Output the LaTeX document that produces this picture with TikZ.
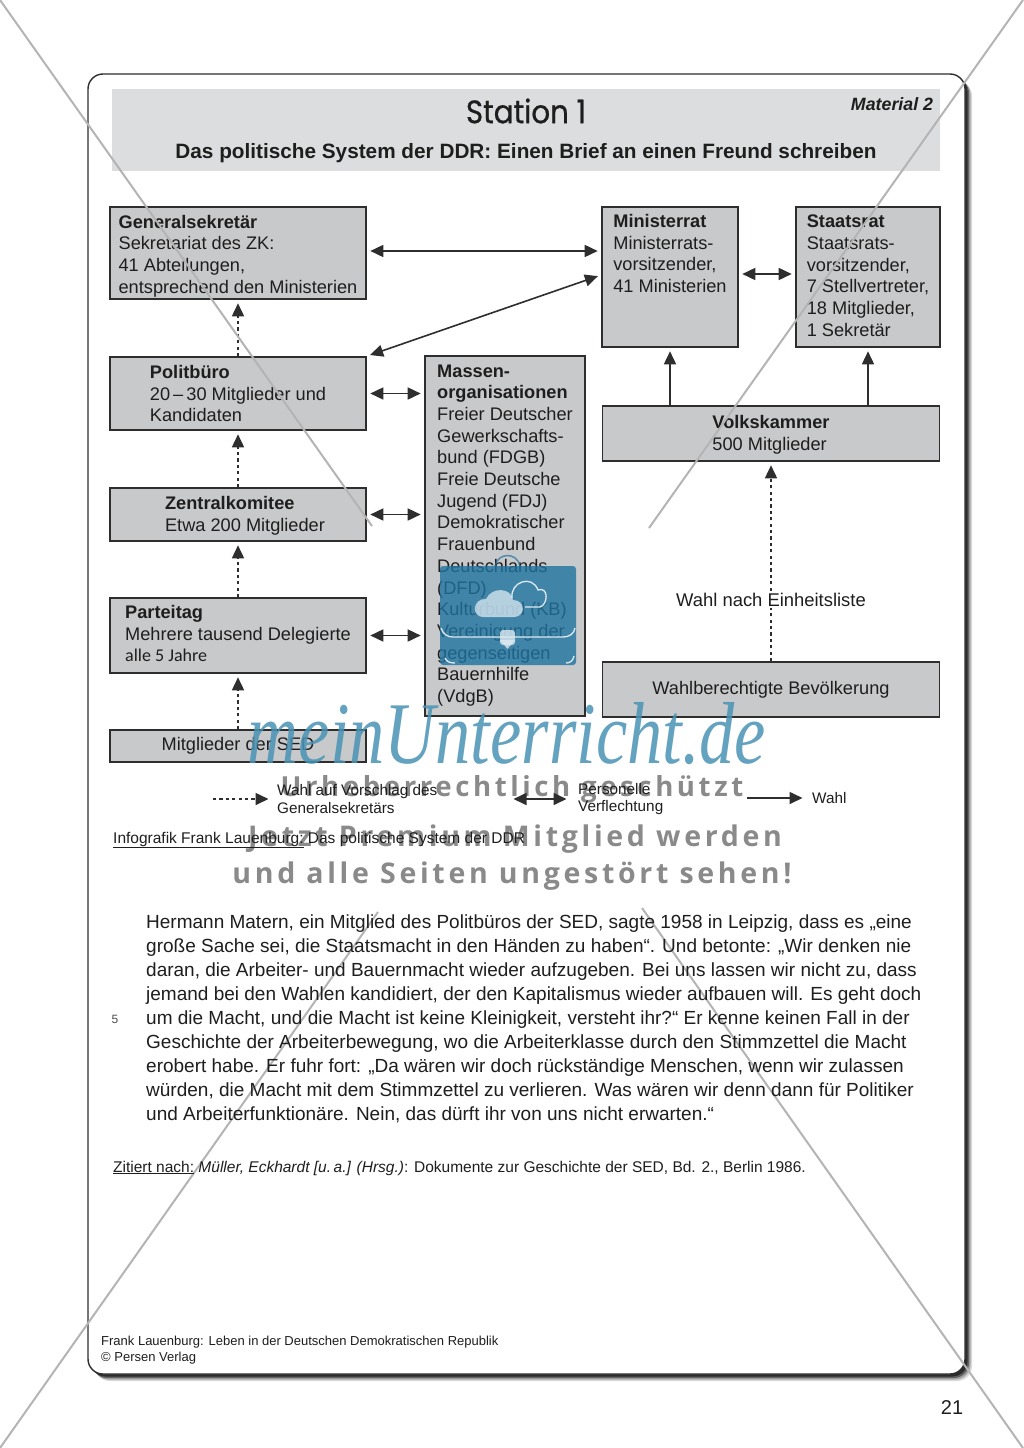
\documentclass[tikz,border=0pt]{standalone}
\usepackage{fontspec}
\setmainfont{Liberation Sans}
\newfontfamily\titlefont[FakeStretch=0.9,FakeBold=0.7]{Poppins}
\newfontfamily\logofont[FakeStretch=0.8]{Liberation Serif}
\newfontfamily\stampfont[LetterSpace=13]{Open Sans}
\newfontfamily\minifont{Carlito}
\usetikzlibrary{arrows.meta}
\definecolor{kastengrau}{HTML}{C8C9CB}
\definecolor{kopfgrau}{HTML}{DCDDDE}
\definecolor{liniedunkel}{HTML}{2E2E2E}
\definecolor{schrift}{HTML}{1E1E1E}
\definecolor{logoblau}{HTML}{4A93B5}
\definecolor{koffer}{HTML}{1F73A0}
\definecolor{stempel}{HTML}{8A8A8A}
\definecolor{kreuz}{HTML}{B4B4B4}
\tikzset{
  box/.style={draw=liniedunkel, line width=1.6pt, fill=kastengrau, text=schrift, align=left, inner sep=0pt,
    font=\fontsize{18.2}{21.7}\selectfont},
  verflechtung/.style={{Triangle[length=13pt,width=12pt]}-{Triangle[length=13pt,width=12pt]}, line width=1.6pt, liniedunkel, shorten <=3.5pt, shorten >=3.5pt},
  wahlpfeil/.style={-{Triangle[length=13pt,width=12pt]}, line width=1.6pt, liniedunkel, shorten >=3.5pt},
  vorschlag/.style={wahlpfeil, dash pattern=on 3.2pt off 3.2pt},
  legende/.style={anchor=west, align=left, inner sep=0pt, text=schrift, font=\fontsize{15.3}{17.8}\selectfont},
  stamp/.style={text=stempel, font=\stampfont\bfseries\fontsize{28.5}{34}\selectfont},
  kreuzlinie/.style={line width=2pt, kreuz}
}
\begin{document}
\begin{tikzpicture}[x=1pt,y=-1pt]
\useasboundingbox (0,0) rectangle (1023,1448);

% frame and header
\foreach \off/\op in {7/.15,5.5/.25,4/.4,2.5/.55}
  \fill[black, opacity=\op, rounded corners=15pt] (88+\off,74+\off) rectangle (965+\off,1374+\off);
\draw[liniedunkel, line width=1.4pt, fill=white, rounded corners=15pt] (88,74) rectangle (965,1374);
\fill[kopfgrau] (112,89) rectangle (940,171);

% boxes
\node[box, minimum width=256pt, minimum height=92pt] (gensek) at (238,253) {\rule{0pt}{19pt}\textbf{Generalsekretär}\\Sekretariat des ZK:\\41 Abteilungen,\\entsprechend den Ministerien};
\node[box, minimum width=256pt, minimum height=73pt] (politbuero) at (238,393.5) {\textbf{Politbüro}\\20\,--\,30 Mitglieder und\\Kandidaten};
\node[box, minimum width=256pt, minimum height=53pt] (zk) at (238,514.5) {\rule{0pt}{16pt}\hspace*{14pt}\textbf{Zentralkomitee}\\\hspace*{14pt}Etwa 200 Mitglieder};
\node[box, minimum width=256pt, minimum height=75pt] (parteitag) at (238,635.5) {\textbf{Parteitag}\\Mehrere tausend Delegierte\\{\minifont\fontsize{18}{21.7}\selectfont alle 5 Jahre}\rule[-4pt]{0pt}{4pt}};
\node[box, minimum width=256pt, minimum height=32pt] (mitglieder) at (238,746) {Mitglieder der SED};
\node[box, minimum width=160pt, minimum height=360pt] (massen) at (505,536) {\textbf{Massen-}\\\textbf{organisationen}\\Freier Deutscher\\Gewerkschafts-\\bund (FDGB)\\Freie Deutsche\\Jugend (FDJ)\\Demokratischer\\Frauenbund\\Deutschlands\\(DFD)\\Kulturbund (KB)\\Vereinigung der\\gegenseitigen\\Bauernhilfe\\(VdgB)\rule[-5pt]{0pt}{5pt}};
\node[box, minimum width=136pt, minimum height=140pt] (ministerrat) at (670,277) {\textbf{Ministerrat}\\Ministerrats-\\vorsitzender,\\41 Ministerien\\\mbox{}\\[4pt]\mbox{}};
\node[box, minimum width=144pt, minimum height=140pt] (staatsrat) at (868,277) {\textbf{Staatsrat}\\Staatsrats-\\vorsitzender,\\7 Stellvertreter,\\18 Mitglieder,\\1 Sekretär\rule[-3pt]{0pt}{3pt}};
\node[box, minimum width=337pt, minimum height=55pt] (volkskammer) at (771,433.5) {\rule{0pt}{16pt}\textbf{Volkskammer}\\500 Mitglieder};
\node[box, minimum width=337pt, minimum height=55pt] (bevoelkerung) at (771,689.5) {Wahlberechtigte Bevölkerung};

% connectors
\draw[verflechtung] ([yshift=2pt]gensek.east) -- ([yshift=2pt]gensek.east -| ministerrat.west);
\draw[verflechtung] (politbuero.north east) -- ([yshift=2pt]ministerrat.west);
\draw[verflechtung] (politbuero.east) -- (politbuero.east -| massen.west);
\draw[verflechtung] (zk.east) -- (zk.east -| massen.west);
\draw[verflechtung] (parteitag.east) -- (parteitag.east -| massen.west);
\draw[verflechtung] ([yshift=3pt]ministerrat.east) -- ([yshift=3pt]ministerrat.east -| staatsrat.west);
\draw[wahlpfeil] (volkskammer.north -| ministerrat.south) -- (ministerrat.south);
\draw[wahlpfeil] (volkskammer.north -| staatsrat.south) -- (staatsrat.south);
\draw[vorschlag] (politbuero.north) -- (gensek.south);
\draw[vorschlag] (zk.north) -- (politbuero.south);
\draw[vorschlag] (parteitag.north) -- (zk.south);
\draw[vorschlag] (mitglieder.north) -- (parteitag.south);
\draw[vorschlag] (bevoelkerung.north) -- (volkskammer.south);
\node[fill=white, inner sep=1pt, text=schrift, font=\fontsize{18.4}{21}\selectfont] (einheit) at (771,600) {Wahl nach Einheitsliste};

% grey cross over the page
\draw[kreuzlinie] (0,0) -- (372,526);
\draw[kreuzlinie] (1023,0) -- (649,528);
\draw[kreuzlinie] (642,908) -- (1023,1448);
\draw[kreuzlinie] (378,912) -- (0,1448);

% stamp lines
\node[stamp, font=\stampfont\bfseries\fontsize{27.6}{34}\selectfont] (stamp1) at (512,789) {Urheberrechtlich geschützt};
\node[stamp] (stamp2) at (515,839) {Jetzt Premium Mitglied werden};
\node[stamp] (stamp3) at (512,876) {und alle Seiten ungestört sehen!};

% titles
\node[text=schrift, font=\titlefont\fontsize{32.5}{36}\selectfont] (station) at (526,111) {Station 1};
\node[text=schrift, font=\bfseries\itshape\fontsize{17.8}{18}\selectfont] (material) at (892,104) {Material 2};
\node[text=schrift, font=\bfseries\fontsize{20.75}{24}\selectfont] (untertitel) at (526,153) {Das politische System der DDR: Einen Brief an einen Freund schreiben};

% legend
\coordinate (leg1a) at (213,799);
\coordinate (leg1b) at (272,799);
\coordinate (leg2a) at (510,799);
\coordinate (leg2b) at (570,799);
\coordinate (leg3a) at (747,798);
\coordinate (leg3b) at (806,798);
\draw[vorschlag] (leg1a) -- (leg1b);
\draw[verflechtung] (leg2a) -- (leg2b);
\draw[wahlpfeil] (leg3a) -- (leg3b);
\node[legende] (leg1) at (277,799) {Wahl auf Vorschlag des\\Generalsekretärs};
\node[legende] (leg2) at (578,799) {Personelle\\Verflechtung};
\node[legende] (leg3) at (812,798) {Wahl};

% caption, text, source
\node[anchor=west, inner sep=0pt, text=schrift, font=\fontsize{15.5}{18}\selectfont] (caption) at (113,840) {\underline{Infografik Frank Lauenburg:} Das politische System der DDR};
\node[anchor=north west, align=left, inner sep=0pt, text=schrift, font=\fontsize{19}{24}\selectfont] (quelltext) at (146,915) {Hermann Matern, ein Mitglied des Politbüros der SED, sagte 1958 in Leipzig, dass es „eine\\große Sache sei, die Staatsmacht in den Händen zu haben“. Und betonte: „Wir denken nie\\daran, die Arbeiter- und Bauernmacht wieder aufzugeben. Bei uns lassen wir nicht zu, dass\\jemand bei den Wahlen kandidiert, der den Kapitalismus wieder aufbauen will. Es geht doch\\um die Macht, und die Macht ist keine Kleinigkeit, versteht ihr?“ Er kenne keinen Fall in der\\Geschichte der Arbeiterbewegung, wo die Arbeiterklasse durch den Stimmzettel die Macht\\erobert habe. Er fuhr fort: „Da wären wir doch rückständige Menschen, wenn wir zulassen\\würden, die Macht mit dem Stimmzettel zu verlieren. Was wären wir denn dann für Politiker\\und Arbeiterfunktionäre. Nein, das dürft ihr von uns nicht erwarten.“};
\node[text=black!70, font=\fontsize{12}{14}\selectfont] (zeile) at (115,1019) {5};
\node[anchor=west, inner sep=0pt, text=schrift, font=\fontsize{15.5}{18}\selectfont] (nachweis) at (113,1168) {\underline{Zitiert nach:} \textit{Müller, Eckhardt [u.\,a.] (Hrsg.)}: Dokumente zur Geschichte der SED, Bd. 2., Berlin 1986.};
\node[anchor=north west, align=left, inner sep=0pt, text=schrift, font=\fontsize{13}{16}\selectfont] (fuss) at (101,1336) {Frank Lauenburg: Leben in der Deutschen Demokratischen Republik\\© Persen Verlag};
\node[text=schrift, font=\fontsize{20}{24}\selectfont] (seite) at (952,1407) {21};

% briefcase mark
\fill[koffer, opacity=.8, rounded corners=3pt] (440,566) rectangle (576,665);
\draw[koffer, line width=1.5pt, opacity=.7] (495,566) .. controls (498,552) and (517,552) .. (520,566);
\draw[white!85!koffer, line width=1.3pt] (441,628) .. controls (443,634) and (447,637) .. (453,637) -- (563,637) .. controls (569,637) and (574,634) .. (575,628);
\draw[white!85!koffer, line width=1.3pt] (445,658) .. controls (447,662) and (450,663) .. (455,663);
\draw[white!85!koffer, line width=1.3pt] (574,656) .. controls (573,661) and (570,663) .. (566,663);
\fill[white!85!koffer, opacity=.8, rounded corners=3pt] (500,630) rectangle (515,645);
\fill[white!85!koffer, opacity=.8] (500,640) -- (515,640) -- (507.5,649) -- cycle;
\draw[white!85!koffer, line width=1.3pt] (512,598) .. controls (510,582) and (532,574) .. (538,590) .. controls (549,586) and (548,605) .. (540,607) -- (525,607);
\fill[white!85!koffer, opacity=.75] (484,617) .. controls (470,617) and (473,598) .. (486,599) .. controls (492,586) and (512,588) .. (513,600) .. controls (526,600) and (526,617) .. (514,617) -- cycle;

% logo
\node[text=logoblau, opacity=.85, font=\logofont\itshape\fontsize{88}{90}\selectfont] (logo) at (507,734) {meinUnterricht.de};
\end{tikzpicture}
\end{document}
